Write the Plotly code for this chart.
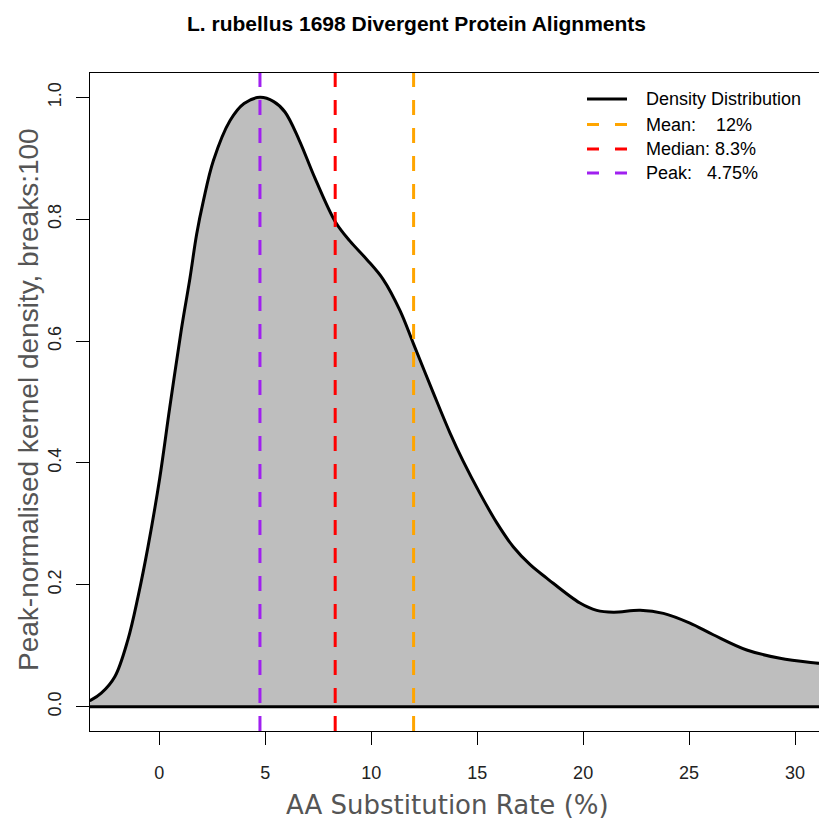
import plotly.graph_objects as go

# ---- data ----
rate_pct = [-3.45, -3.21, -2.74, -2.10, -1.48, -1.00, -0.53, 0.02, 0.49, 1.04, 1.45, 1.76,
            2.08, 2.55, 3.34, 4.00, 4.75, 5.40, 5.93, 6.60, 7.35, 8.32, 9.00, 9.79, 10.57,
            11.36, 12.00, 12.93, 13.72, 14.35, 15.13, 15.92, 16.71, 17.50, 18.28, 19.85,
            20.64, 21.43, 22.69, 23.79, 25.04, 26.14, 27.72, 29.29, 31.13, 31.60]
density = [0.008, 0.011, 0.022, 0.049, 0.110, 0.181, 0.263, 0.375, 0.490, 0.619, 0.704, 0.775,
           0.830, 0.896, 0.962, 0.990, 1.000, 0.993, 0.976, 0.930, 0.867, 0.795, 0.764, 0.734, 0.701,
           0.650, 0.595, 0.515, 0.449, 0.402, 0.350, 0.302, 0.262, 0.233, 0.211, 0.170,
           0.158, 0.155, 0.158, 0.153, 0.137, 0.118, 0.093, 0.0795, 0.071, 0.069]

stat_names = ["Mean", "Median", "Peak"]
stat_values = [12.0, 8.3, 4.75]
stat_labels = ["Mean:\u00a0\u00a0\u00a0\u00a012%", "Median:\u00a08.3%", "Peak:\u00a0\u00a0\u00a04.75%"]
stat_colors = ["#FFA500", "#FF0000", "#A020F0"]

x_ticks = [0, 5, 10, 15, 20, 25, 30]
y_ticks = [0.0, 0.2, 0.4, 0.6, 0.8, 1.0]
y_ticklabels = ["0.0", "0.2", "0.4", "0.6", "0.8", "1.0"]

X_RANGE = [-3.27, 31.13]
Y_RANGE = [-0.04, 1.04]

# ---- layout geometry ----
W, H = 819, 824
ML, MR, MT, MB = 90, 0, 73, 93
PW, PH = W - ML - MR, H - MT - MB


def pxx(px):
    return (px - ML) / PW


def pxy(py):
    return (H - MB - py) / PH


fig = go.Figure()

# density curve filled to baseline
fig.add_trace(go.Scatter(
    x=rate_pct, y=density, mode="lines", fill="tozeroy", fillcolor="#BEBEBE",
    line=dict(color="black", width=3, shape="spline", smoothing=1.0),
    showlegend=False, hoverinfo="skip"))
# baseline of the polygon
fig.add_trace(go.Scatter(
    x=[rate_pct[0], rate_pct[-1]], y=[0, 0], mode="lines",
    line=dict(color="black", width=3), showlegend=False, hoverinfo="skip"))

# vertical stat lines
for v, c, n in zip(stat_values, stat_colors, stat_names):
    fig.add_trace(go.Scatter(
        x=[v, v], y=[Y_RANGE[0], Y_RANGE[1]], mode="lines", name=n,
        line=dict(color=c, width=3, dash="15px,13px"), showlegend=False))

# manual legend (R-style, no box)
leg_rows = [99, 124.5, 149, 173]
leg_items = [("Density Distribution", "black", "solid")] + [
    (lab, col, "12px,16px") for lab, col in zip(stat_labels, stat_colors)]
shapes = []
annotations = []
for (lab, col, dash), ry in zip(leg_items, leg_rows):
    shapes.append(dict(type="line", xref="paper", yref="paper",
                       x0=pxx(587), x1=pxx(627), y0=pxy(ry), y1=pxy(ry),
                       line=dict(color=col, width=3, dash=dash)))
    annotations.append(dict(text=lab, xref="paper", yref="paper", x=pxx(644), y=pxy(ry),
                            xanchor="left", yanchor="middle", showarrow=False,
                            font=dict(family="Liberation Sans", size=18, color="black")))

# axis titles
annotations.append(dict(text="AA Substitution Rate (%)", xref="paper", yref="paper",
                        x=pxx(447.5), y=pxy(805), xanchor="center", yanchor="middle",
                        showarrow=False,
                        font=dict(family="DejaVu Sans", size=26, color="#555555")))
annotations.append(dict(text="Peak-normalised kernel density, breaks:100", xref="paper",
                        yref="paper", x=pxx(28), y=pxy(400), xanchor="center",
                        yanchor="middle", textangle=-90, showarrow=False,
                        font=dict(family="Liberation Sans", size=28, color="#555555")))

fig.update_layout(
    width=W, height=H,
    margin=dict(l=ML, r=MR, t=MT, b=MB, pad=0),
    paper_bgcolor="white", plot_bgcolor="white",
    title=dict(text="<b>L. rubellus 1698 Divergent Protein Alignments</b>",
               xref="container", yref="container", x=416.5 / W, y=1 - 24 / H,
               xanchor="center", yanchor="middle",
               font=dict(family="Liberation Sans", size=21, color="black")),
    showlegend=False,
    shapes=shapes,
    annotations=annotations,
    xaxis=dict(range=X_RANGE, showgrid=False, zeroline=False, showline=True,
               linecolor="black", linewidth=1.3, mirror=True,
               ticks="outside", ticklen=13, tickwidth=1.3, tickcolor="black",
               tickvals=x_ticks, ticklabelstandoff=12,
               tickfont=dict(family="Liberation Sans", size=18, color="#222222")),
    yaxis=dict(range=Y_RANGE, showgrid=False, zeroline=False, showline=True,
               linecolor="black", linewidth=1.3, mirror=False,
               ticks="outside", ticklen=13, tickwidth=1.3, tickcolor="black",
               tickvals=y_ticks, ticktext=y_ticklabels, tickangle=-90,
               ticklabelstandoff=8,
               tickfont=dict(family="Liberation Sans", size=18, color="#222222")),
)

fig.write_html("out.html")
